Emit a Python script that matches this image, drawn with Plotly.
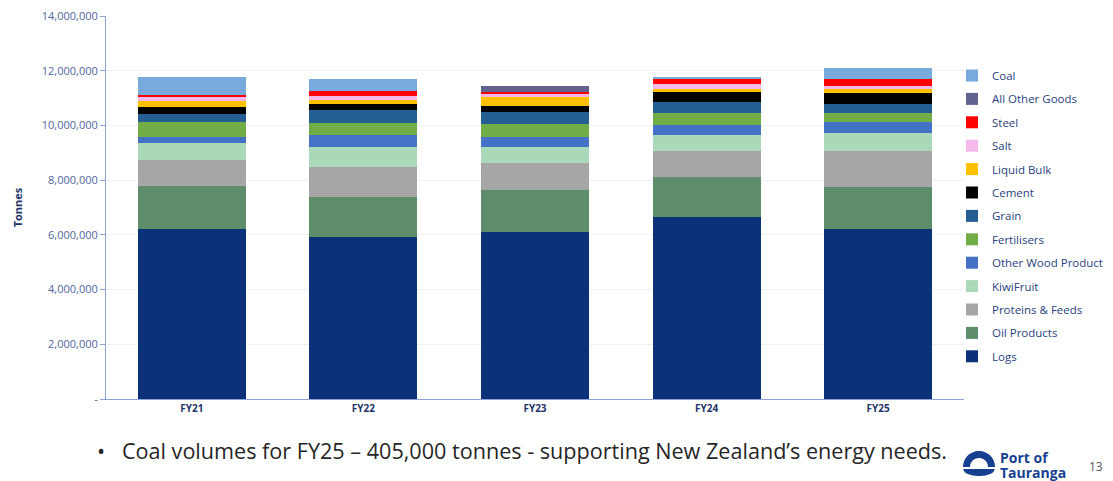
import plotly.graph_objects as go
import math

years = ["FY21", "FY22", "FY23", "FY24", "FY25"]

logs = [6.21e6, 5.91e6, 6.12e6, 6.64e6, 6.21e6]
oil_products = [1.59e6, 1.48e6, 1.52e6, 1.49e6, 1.55e6]
proteins_feeds = [0.94e6, 1.10e6, 1.00e6, 0.93e6, 1.30e6]
kiwifruit = [0.63e6, 0.73e6, 0.56e6, 0.59e6, 0.65e6]
other_wood = [0.20e6, 0.43e6, 0.39e6, 0.36e6, 0.43e6]
fertilisers = [0.54e6, 0.43e6, 0.46e6, 0.46e6, 0.30e6]
grain = [0.31e6, 0.48e6, 0.43e6, 0.37e6, 0.34e6]
cement = [0.26e6, 0.21e6, 0.24e6, 0.37e6, 0.39e6]
liquid_bulk = [0.22e6, 0.16e6, 0.33e6, 0.13e6, 0.15e6]
salt = [0.13e6, 0.14e6, 0.12e6, 0.17e6, 0.13e6]
steel = [0.08e6, 0.19e6, 0.06e6, 0.21e6, 0.23e6]
all_other = [0, 0, 0.22e6, 0, 0]
coal = [0.65e6, 0.42e6, 0, 0.03e6, 0.41e6]

series = [
    ("Logs", logs, "#0b3178"),
    ("Oil Products", oil_products, "#5e8d6b"),
    ("Proteins & Feeds", proteins_feeds, "#a6a6a6"),
    ("KiwiFruit", kiwifruit, "#aad9b9"),
    ("Other Wood Product", other_wood, "#4472c4"),
    ("Fertilisers", fertilisers, "#70ad47"),
    ("Grain", grain, "#255e91"),
    ("Cement", cement, "#000000"),
    ("Liquid Bulk", liquid_bulk, "#ffc000"),
    ("Salt", salt, "#f5b8ea"),
    ("Steel", steel, "#ff0000"),
    ("All Other Goods", all_other, "#62628f"),
    ("Coal", coal, "#78aade"),
]

FONT = "Open Sans"
fig = go.Figure()
for i, (name, vals, col) in enumerate(series):
    fig.add_trace(go.Bar(
        x=years, y=vals, name=name, marker=dict(color=col, line=dict(width=0)),
        legendgroup=f"g{i}", legendrank=1000 - i,
    ))

# plot area pixels
L, R, T, B = 106, 964, 16, 399
W, H = 1113, 481
def px(x):
    return (x - L) / (R - L)
def py(y):
    return (B - y) / (B - T)

fig.update_layout(
    width=W, height=H,
    margin=dict(l=L, r=W - R, t=T, b=H - B, autoexpand=False),
    barmode="stack", bargap=0.37,
    paper_bgcolor="white", plot_bgcolor="white",
    font=dict(family=FONT, color="#1f3468"),
    showlegend=True,
    legend=dict(
        x=px(952), y=py(61), xanchor="left", yanchor="top",
        traceorder="grouped", tracegroupgap=4.4,
        font=dict(size=11.5, color="#2a3f7e", family=FONT),
        bgcolor="rgba(0,0,0,0)", itemwidth=30,
    ),
    xaxis=dict(
        showline=True, linecolor="#8ea3d1", linewidth=1,
        tickfont=dict(size=10, color="#1f3468", family=FONT, weight="bold"),
        ticks="", showgrid=False,
    ),
    yaxis=dict(
        range=[0, 14e6],
        showline=True, linecolor="#8ea3d1", linewidth=1,
        ticks="outside", ticklen=5, tickcolor="#8ea3d1",
        tickfont=dict(size=11, color="#5266a0", family=FONT),
        showgrid=True, gridcolor="#eef1f5", gridwidth=1,
        zeroline=False,
        title=dict(text="<b>Tonnes</b>", font=dict(size=11, color="#1f3468", family=FONT), standoff=16),
        tickvals=[0, 2e6, 4e6, 6e6, 8e6, 10e6, 12e6, 14e6],
        ticktext=["-", "2,000,000", "4,000,000", "6,000,000", "8,000,000", "10,000,000", "12,000,000", "14,000,000"],
    ),
)

# bottom bullet text
fig.add_annotation(
    x=px(95), y=py(450), xref="paper", yref="paper", xanchor="left", yanchor="middle",
    text="•   Coal volumes for FY25 – 405,000 tonnes - supporting New Zealand’s energy needs.",
    showarrow=False, font=dict(size=21.6, color="#262626", family=FONT),
)

# logo: arch + band
navy = "#173f8f"
def arc_path(cx, cy, r_out, r_in):
    pts = []
    m = 30
    for k in range(m + 1):
        a = math.pi * k / m
        pts.append((cx - r_out * math.cos(a), cy - r_out * math.sin(a)))
    for k in range(m + 1):
        a = math.pi * (1 - k / m)
        pts.append((cx - r_in * math.cos(a), cy - r_in * math.sin(a)))
    return "M " + " L ".join(f"{px(x):.5f},{py(y):.5f}" for x, y in pts) + " Z"

fig.add_shape(type="path", path=arc_path(979, 467, 16, 9), xref="paper", yref="paper",
              fillcolor=navy, line=dict(width=0))

def band_path(x0, x1, ytop, ybot):
    pts = []
    m = 20
    cx = (x0 + x1) / 2
    hw = (x1 - x0) / 2
    for k in range(m + 1):
        t = -1 + 2 * k / m
        pts.append((cx + hw * t, ytop))
    for k in range(m + 1):
        t = 1 - 2 * k / m
        pts.append((cx + hw * t, ytop + (ybot - ytop) * math.sqrt(max(0, 1 - t * t))))
    return "M " + " L ".join(f"{px(x):.5f},{py(y):.5f}" for x, y in pts) + " Z"

fig.add_shape(type="path", path=band_path(963, 995, 469, 476), xref="paper", yref="paper",
              fillcolor=navy, line=dict(width=0))

fig.add_annotation(
    x=px(999), y=py(457), xref="paper", yref="paper", xanchor="left", yanchor="middle",
    text="<b>Port of</b>", align="left", showarrow=False, borderpad=0,
    font=dict(size=14, color=navy, family=FONT),
)
fig.add_annotation(
    x=px(999), y=py(472), xref="paper", yref="paper", xanchor="left", yanchor="middle",
    text="<b>Tauranga</b>", align="left", showarrow=False, borderpad=0,
    font=dict(size=14, color=navy, family=FONT),
)
fig.add_annotation(
    x=px(1096), y=py(466), xref="paper", yref="paper", xanchor="center", yanchor="middle",
    text="13", showarrow=False, font=dict(size=12, color="#555555", family=FONT),
)

fig.write_html("out.html")
